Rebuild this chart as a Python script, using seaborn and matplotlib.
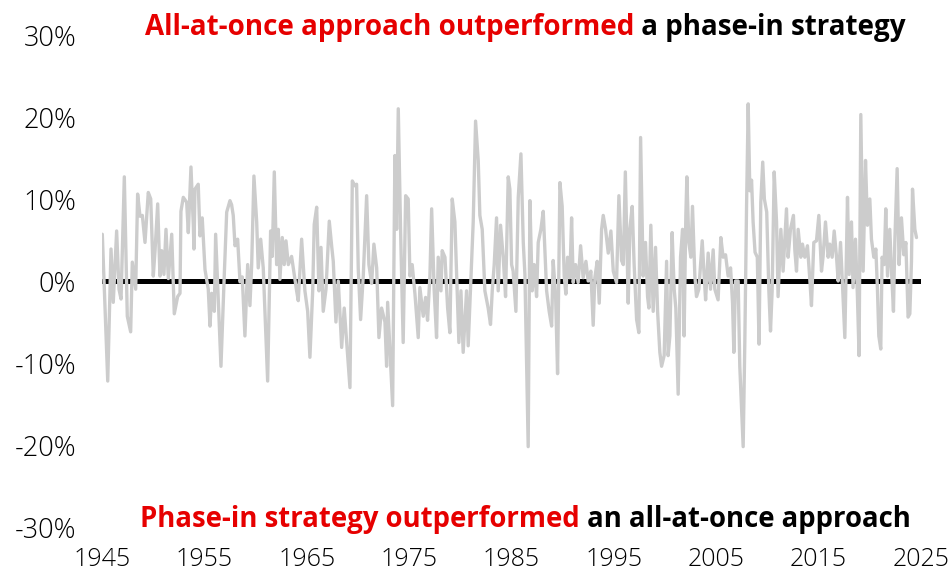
import matplotlib
matplotlib.use("Agg")
import matplotlib.pyplot as plt
import seaborn as sns

# Relative performance (all-at-once minus phase-in), %
years = [
    1945.03, 1945.56, 1945.88, 1946.10, 1946.43, 1946.66, 1946.86, 1947.18, 1947.47, 1947.80,
    1947.96, 1948.29, 1948.48, 1948.71, 1948.94, 1949.20, 1949.52, 1949.76, 1950.01, 1950.18,
    1950.44, 1950.66, 1950.83, 1951.05, 1951.25, 1951.48, 1951.81, 1952.06, 1952.39, 1952.62,
    1952.71, 1952.94, 1953.27, 1953.43, 1953.69, 1953.92, 1953.98, 1954.08, 1954.40, 1954.57,
    1954.79, 1955.06, 1955.38, 1955.55, 1955.71, 1955.97, 1956.10, 1956.36, 1956.62, 1956.94,
    1957.18, 1957.50, 1957.66, 1957.82, 1957.99, 1958.25, 1958.48, 1958.70, 1958.96, 1959.23,
    1959.45, 1959.62, 1959.84, 1960.11, 1960.26, 1960.50, 1960.75, 1961.18, 1961.47, 1961.63,
    1961.83, 1962.06, 1962.22, 1962.38, 1962.61, 1962.80, 1962.97, 1963.20, 1963.52, 1963.78,
    1964.01, 1964.17, 1964.50, 1964.82, 1965.09, 1965.31, 1965.58, 1965.73, 1965.97, 1966.19,
    1966.39, 1966.61, 1966.88, 1967.20, 1967.43, 1967.59, 1967.85, 1968.08, 1968.41, 1968.66,
    1968.90, 1969.22, 1969.45, 1969.71, 1969.87, 1970.03, 1970.26, 1970.52, 1970.85, 1971.07,
    1971.34, 1971.56, 1971.83, 1972.05, 1972.31, 1972.64, 1972.80, 1972.90, 1973.13, 1973.39,
    1973.61, 1973.78, 1973.94, 1974.17, 1974.42, 1974.66, 1974.91, 1975.08, 1975.30, 1975.57,
    1975.89, 1976.05, 1976.38, 1976.61, 1976.80, 1977.03, 1977.20, 1977.45, 1977.68, 1977.84,
    1978.11, 1978.23, 1978.50, 1978.76, 1978.98, 1979.21, 1979.47, 1979.64, 1979.86, 1980.06,
    1980.28, 1980.61, 1980.77, 1981.04, 1981.26, 1981.49, 1981.75, 1981.91, 1982.14, 1982.40,
    1982.72, 1982.95, 1983.12, 1983.31, 1983.54, 1983.70, 1983.93, 1984.19, 1984.42, 1984.68,
    1984.84, 1985.01, 1985.16, 1985.43, 1985.66, 1985.92, 1986.15, 1986.31, 1986.63, 1986.80,
    1987.02, 1987.22, 1987.45, 1987.61, 1987.87, 1988.10, 1988.26, 1988.43, 1988.68, 1988.92,
    1989.07, 1989.31, 1989.50, 1989.73, 1989.95, 1990.15, 1990.31, 1990.48, 1990.70, 1990.87,
    1991.03, 1991.26, 1991.51, 1991.75, 1992.00, 1992.27, 1992.49, 1992.75, 1992.98, 1993.14,
    1993.37, 1993.57, 1993.80, 1993.96, 1994.19, 1994.45, 1994.71, 1994.94, 1995.26, 1995.49,
    1995.75, 1995.92, 1996.12, 1996.40, 1996.56, 1996.79, 1996.98, 1997.22, 1997.44, 1997.61,
    1997.86, 1998.09, 1998.29, 1998.42, 1998.61, 1998.84, 1999.07, 1999.27, 1999.49, 1999.66,
    1999.91, 2000.15, 2000.30, 2000.47, 2000.69, 2000.89, 2001.05, 2001.28, 2001.51, 2001.71,
    2001.86, 2002.03, 2002.13, 2002.32, 2002.52, 2002.68, 2002.91, 2003.07, 2003.30, 2003.63,
    2003.82, 2003.96, 2004.21, 2004.44, 2004.70, 2004.86, 2005.18, 2005.45, 2005.67, 2005.91,
    2006.16, 2006.40, 2006.59, 2006.72, 2006.88, 2007.14, 2007.30, 2007.63, 2007.79, 2007.96,
    2008.12, 2008.28, 2008.45, 2008.60, 2008.79, 2009.01, 2009.18, 2009.35, 2009.54, 2009.70,
    2009.93, 2010.14, 2010.30, 2010.46, 2010.66, 2010.89, 2011.04, 2011.31, 2011.53, 2011.86,
    2012.02, 2012.25, 2012.54, 2012.68, 2012.84, 2013.00, 2013.26, 2013.42, 2013.65, 2013.91,
    2014.14, 2014.30, 2014.53, 2014.79, 2015.02, 2015.28, 2015.43, 2015.67, 2015.93, 2016.09,
    2016.32, 2016.52, 2016.75, 2016.91, 2017.14, 2017.33, 2017.56, 2017.82, 2017.98, 2018.21,
    2018.36, 2018.60, 2018.79, 2018.95, 2019.12, 2019.35, 2019.58, 2019.77, 2020.00, 2020.16,
    2020.39, 2020.59, 2020.75, 2020.88, 2021.07, 2021.20, 2021.40, 2021.56, 2021.73, 2021.95,
    2022.12, 2022.31, 2022.44, 2022.67, 2022.86, 2023.09, 2023.32, 2023.52, 2023.74, 2023.91,
    2024.07, 2024.17, 2024.40, 2024.56,
]
values = [
    5.7, -12.2, 3.9, -2.6, 6.1, -1.0, -2.2, 12.7, -4.3, -6.2,
    2.3, -1.0, 10.6, 7.9, 8.0, 4.7, 10.8, 10.0, 0.6, 3.7,
    9.4, 0.6, 3.7, 0.8, 6.3, 0.3, 5.7, -4.0, -1.9, -1.5,
    8.5, 10.2, 9.6, 5.9, 13.9, 6.8, 3.9, 11.2, 11.8, 5.5,
    7.7, 1.4, -1.0, -5.5, -1.5, -3.7, 5.7, -2.3, -10.4, 0.6,
    8.4, 9.8, 9.3, 8.0, 4.3, 5.1, -0.1, 0.5, -6.7, 2.0,
    -3.0, 2.0, 12.8, 7.2, 1.6, 5.1, 1.6, -12.2, 6.1, 3.0,
    13.3, 2.0, 6.3, 0.2, 5.3, 2.0, 4.9, 2.0, 3.0, 0.8,
    -1.2, -2.4, 5.1, -1.2, -3.7, -9.3, -1.2, 6.9, 9.0, -1.2,
    4.1, -3.7, -1.0, 7.3, 4.3, 2.4, -5.0, 0.0, -8.1, -3.3,
    -7.5, -13.0, 12.2, 11.6, 11.8, 1.5, -4.7, 0.6, 10.4, 2.0,
    -0.3, 4.5, 1.6, -6.9, -3.3, -5.0, -10.4, -2.6, -8.5, -15.2,
    15.3, 6.3, 21.0, 5.9, -7.5, 10.4, 10.0, 0.6, 2.0, -1.6,
    -6.9, -0.8, -4.3, -2.0, -4.8, 0.6, 8.8, -1.2, -6.9, 2.9,
    -1.2, 3.7, 2.9, -3.3, -6.3, 10.0, 7.2, 0.8, -7.5, -1.2,
    -8.7, -1.2, -7.9, 0.6, 7.2, 19.5, 14.7, 8.0, 6.3, -1.2,
    -3.3, -5.3, -1.2, 2.0, 7.7, -1.2, 6.8, 2.9, -1.9, 12.7,
    11.2, 2.0, 1.2, -3.7, 10.2, 15.5, 4.7, 0.8, -20.2, 9.8,
    -1.2, 2.0, -1.9, 4.7, 6.3, 8.5, 3.7, -1.2, -3.7, -5.5,
    2.5, -1.9, -11.3, 12.0, 9.1, 0.6, -1.6, 2.9, 0.4, 7.7,
    -0.2, 2.0, -0.2, 4.3, 0.4, 2.4, 0.0, 1.2, -5.4, 0.4,
    2.4, -2.7, 6.3, 8.0, 6.3, 3.4, 6.1, 1.2, -0.2, 10.4,
    2.5, 2.0, 13.3, -2.7, 6.3, 9.1, 2.0, -4.7, -6.3, 17.5,
    0.6, 4.7, -1.9, -3.3, 6.8, -3.7, 4.1, -3.7, -8.7, -10.4,
    -9.1, 2.4, -9.1, -6.7, 5.9, -1.0, -3.3, -13.8, 2.9, 6.3,
    -6.7, 8.0, 12.7, 4.7, 2.9, 9.1, 0.6, -1.9, -1.0, 4.9,
    0.6, -2.3, 3.4, -1.0, 3.8, -1.0, -2.3, 5.3, 2.9, 3.2,
    0.6, 1.6, -2.7, -8.7, 0.0, 0.0, -10.4, -20.2, -7.5, 9.1,
    21.6, 11.0, 12.3, 7.2, 3.5, 2.9, -7.7, 9.6, 14.5, 10.0,
    8.4, -1.2, -6.1, -1.2, 13.3, 7.2, -1.9, 6.3, 1.2, 8.8,
    2.9, 6.3, 8.0, 3.7, 1.2, 6.3, 2.9, 4.5, 2.9, 4.3,
    0.2, -3.0, 4.7, 4.9, 8.0, 1.2, 2.9, 7.2, 2.9, 4.5,
    2.9, 6.1, 2.9, 0.0, 4.7, -0.4, -6.9, 10.2, 0.8, 7.2,
    -0.8, 5.1, -1.9, -9.1, 20.3, 1.2, 14.7, 6.8, 10.0, 5.1,
    2.9, 3.9, -1.2, -6.7, -8.3, 2.9, 2.0, 8.8, 0.6, 6.3,
    1.2, -3.7, 4.7, 13.7, 2.0, 7.7, 3.2, 4.7, -4.4, -4.0,
    2.4, 11.2, 6.3, 5.3,
]

x_ticks = [1945, 1955, 1965, 1975, 1985, 1995, 2005, 2015, 2025]
y_ticks = [-30, -20, -10, 0, 10, 20, 30]

top_red = "All-at-once approach outperformed"
top_black = " a phase-in strategy"
bottom_red = "Phase-in strategy outperformed"
bottom_black = " an all-at-once approach"

RED = "#e60000"
GRAY = "#cccccc"

sns.set_style("white")
plt.rcParams["font.family"] = ["Open Sans", "DejaVu Sans"]

fig = plt.figure(figsize=(9.51, 5.72), dpi=100)
ax = fig.add_axes([102 / 951, 1 - 527 / 572, (921 - 102) / 951, (527 - 35) / 572])

ax.axhline(0, color="black", linewidth=3.6, zorder=1)
sns.lineplot(x=years, y=values, ax=ax, color=GRAY, linewidth=2.4, zorder=2)

ax.set_xlim(1945, 2025)
ax.set_ylim(-30, 30)
ax.set_xticks(x_ticks)
ax.set_xticklabels([str(y) for y in x_ticks], fontsize=18, fontweight="light")
ax.set_yticks(y_ticks)
ax.set_yticklabels([f"{v}%" for v in y_ticks], fontsize=19.5, fontweight="light")
ax.tick_params(axis="both", length=0, colors="black")
ax.tick_params(axis="x", pad=14.5)
ax.tick_params(axis="y", pad=18.5)
sns.despine(ax=ax, left=True, bottom=True)
ax.grid(False)

# two-colour captions: red part, then black part right after it
t1 = fig.text(145 / 951, 1 - 27 / 572, top_red, color=RED, va="center", ha="left",
              fontsize=20, fontweight="bold")
ax.annotate(top_black, xy=(1, 0), xycoords=t1, va="bottom", ha="left",
            color="black", fontsize=20, fontweight="bold")
t2 = fig.text(140 / 951, 1 - 519 / 572, bottom_red, color=RED, va="center", ha="left",
              fontsize=19.8, fontweight="bold")
ax.annotate(bottom_black, xy=(1, 0), xycoords=t2, va="bottom", ha="left",
            color="black", fontsize=19.8, fontweight="bold")

fig.savefig("out.png", dpi=100)
plt.close(fig)
